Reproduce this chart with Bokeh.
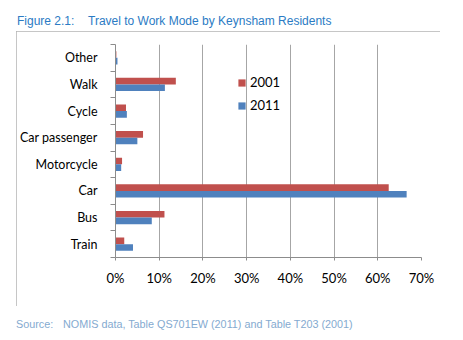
from bokeh.plotting import figure
from bokeh.models import (FixedTicker, PrintfTickFormatter, Legend, LegendItem,
                          ColumnDataSource, Div)
from bokeh.layouts import column
from bokeh.embed import file_html
from bokeh.resources import INLINE

# ---- data ----
categories = ["Train", "Bus", "Car", "Motorcycle", "Car passenger", "Cycle", "Walk", "Other"]
v2001 = [2.0, 11.2, 62.5, 1.5, 6.3, 2.4, 13.8, 0.2]
v2011 = [4.0, 8.3, 66.6, 1.3, 5.0, 2.6, 11.3, 0.45]
x_ticks = [0, 10, 20, 30, 40, 50, 60, 70]
series = ["2001", "2011"]
colors = ["#C0504D", "#4F81BD"]
fig_label = "Figure 2.1:"
title_text = "Travel to Work Mode by Keynsham Residents"
src_label = "Source:"
src_text = "NOMIS data, Table QS701EW (2011) and Table T203 (2001)"

FONT = "Lato"
W = 463

p = figure(width=424, height=275, x_range=(0, 70), y_range=(0, len(categories)),
           output_backend="svg", toolbar_location=None,
           min_border_left=99, min_border_right=19, min_border_top=13, min_border_bottom=49)
p.outline_line_color = None
p.background_fill_color = "white"
p.border_fill_color = "white"
p.margin = (0, 0, 0, 16)
p.styles = {"outline": "1.5px solid #b3b3b3", "outline-offset": "-1.5px"}

idx = list(range(len(categories)))
bh = 0.25
src1 = ColumnDataSource(dict(y=[i + 0.5 + bh / 2 for i in idx], right=v2001))
src2 = ColumnDataSource(dict(y=[i + 0.5 - bh / 2 for i in idx], right=v2011))
r1 = p.hbar(y="y", right="right", left=0, height=bh, source=src1, fill_color=colors[0], line_color=None)
r2 = p.hbar(y="y", right="right", left=0, height=bh, source=src2, fill_color=colors[1], line_color=None)

# x axis
xt = FixedTicker(ticks=x_ticks)
p.xaxis.ticker = xt
p.xaxis.formatter = PrintfTickFormatter(format="%d%%")
p.xaxis.axis_line_color = "#8c8c8c"
p.xaxis.major_tick_line_color = "#8c8c8c"
p.xaxis.major_tick_out = 3
p.xaxis.major_tick_in = 0
p.xaxis.minor_tick_line_color = None
p.xaxis.major_label_standoff = 9
p.xaxis.major_label_text_font = FONT
p.xaxis.major_label_text_font_size = "13px"
p.xaxis.major_label_text_color = "black"

p.xgrid.ticker = xt
p.xgrid.grid_line_color = "#a6a6a6"
p.ygrid.visible = False

# y axis (category labels at centres, tick marks at boundaries)
yt = FixedTicker(ticks=[i + 0.5 for i in idx], minor_ticks=list(range(len(categories) + 1)))
p.yaxis.ticker = yt
p.yaxis.major_label_overrides = {i + 0.5: c for i, c in zip(idx, categories)}
p.yaxis.axis_line_color = "#8c8c8c"
p.yaxis.major_tick_line_color = None
p.yaxis.major_tick_out = 0
p.yaxis.major_tick_in = 0
p.yaxis.minor_tick_line_color = "#8c8c8c"
p.yaxis.minor_tick_out = 5
p.yaxis.minor_tick_in = 0
p.yaxis.major_label_standoff = 13
p.yaxis.major_label_text_font = FONT
p.yaxis.major_label_text_font_size = "12.5px"
p.yaxis.major_label_text_color = "black"

legend = Legend(items=[LegendItem(label=series[0], renderers=[r1]),
                       LegendItem(label=series[1], renderers=[r2])],
                location=(122, 144), glyph_width=9, glyph_height=9, label_height=9,
                spacing=7, padding=0, margin=0, border_line_color=None,
                background_fill_alpha=0, label_text_font=FONT, label_text_font_size="13px",
                label_standoff=4, label_text_color="black")
p.add_layout(legend)

txt = "position:absolute;white-space:nowrap;font-family:'Liberation Sans',Arial,sans-serif;line-height:14px;"
title_div = Div(
    text=(f'<div style="position:relative;width:{W}px;height:31px;">'
          f'<span style="{txt}left:17px;top:14px;font-size:12px;color:#2B7BC4;">{fig_label}</span>'
          f'<span style="{txt}left:88px;top:14px;font-size:12px;color:#2B7BC4;">{title_text}</span>'
          f'</div>'),
    width=W, height=31, margin=0)
source_div = Div(
    text=(f'<div style="position:relative;width:{W}px;height:34px;">'
          f'<span style="{txt}left:16px;top:11px;font-size:10.8px;color:#84AAD0;">{src_label}</span>'
          f'<span style="{txt}left:63px;top:11px;font-size:10.8px;color:#84AAD0;">{src_text}</span>'
          f'</div>'),
    width=W, height=34, margin=0)

layout = column(title_div, p, source_div, spacing=0, margin=0)

open("out.html", "w").write(file_html(layout, INLINE))
